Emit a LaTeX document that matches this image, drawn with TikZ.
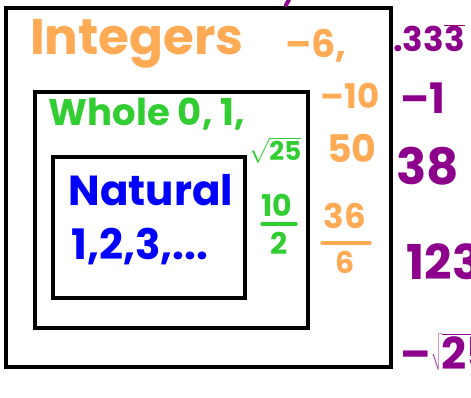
\documentclass[tikz,border=0pt]{standalone}
\usepackage{fontspec}
\setmainfont{Poppins}
\usetikzlibrary{positioning}
\definecolor{penorange}{RGB}{255,170,85}
\definecolor{penpurple}{RGB}{140,0,140}
\definecolor{pengreen}{RGB}{50,205,50}
\definecolor{penblue}{RGB}{0,0,255}
\tikzset{
  setbox/.style={line width=3.5pt},
  ink/.style={inner sep=0pt, font=\fontsize{#1}{#1}\selectfont\bfseries},
  fracbar/.style={line width=3.5pt, line cap=round},
}

\begin{document}
\begin{tikzpicture}[x=1pt,y=-1pt]
\useasboundingbox (0,0) rectangle (471,397);
% the three sets
\draw[setbox] (6,8) rectangle (391,367);
\draw[setbox] (35,92) rectangle (308,328);
\draw[setbox] (53,157) rectangle (245,298);
% integers (orange)
\node[ink=50, text=penorange] (integers) at (137,44) {Integers};
\node[ink=38, text=penorange] (negsix) at (316,46) {–6,};
\node[ink=34, text=penorange] (negten) at (350,96) {–10};
\node[ink=38, text=penorange] (fifty) at (352,148) {50};
\node[ink=34, text=penorange] (sixnum) at (345,216) {36};
\node[ink=30, text=penorange] (sixden) at (345,262) {6};
\draw[penorange, fracbar] (322,243) -- (370,243);
% whole (green)
\node[ink=37, text=pengreen] (whole) at (147,114) {Whole 0, 1,};
\node[ink=26, text=pengreen] (rootfive) at (275,150) {$\sqrt{\mbox{\bfseries 25}}$};
\node[ink=30, text=pengreen] (tennum) at (277,205) {10};
\node[ink=30, text=pengreen] (tenden) at (279,243) {2};
\draw[pengreen, fracbar] (262,224) -- (296,224);
% natural (blue)
\node[ink=42, text=penblue] (natural) at (151,190) {Natural};
\node[ink=42, text=penblue] (counting) at (140,247) {1,2,3,...};
% outside (purple)
\node[ink=34, text=penpurple] (repeating) at (429,38) {.33$\overline{\mbox{\bfseries 3}}$};
\node[ink=42, text=penpurple] (negone) at (423,98) {–1};
\node[ink=50, text=penpurple] (thirtyeight) at (428,166) {38};
\node[ink=48, text=penpurple] (onetwothree) at (444,262) {123};
\node[ink=44, text=penpurple] (negroot) at (448,352) {–$\sqrt{\mbox{\bfseries 25}}$};
\draw[penpurple, line width=4pt, line cap=round] (290,-2) -- (286,5);
\end{tikzpicture}
\end{document}
